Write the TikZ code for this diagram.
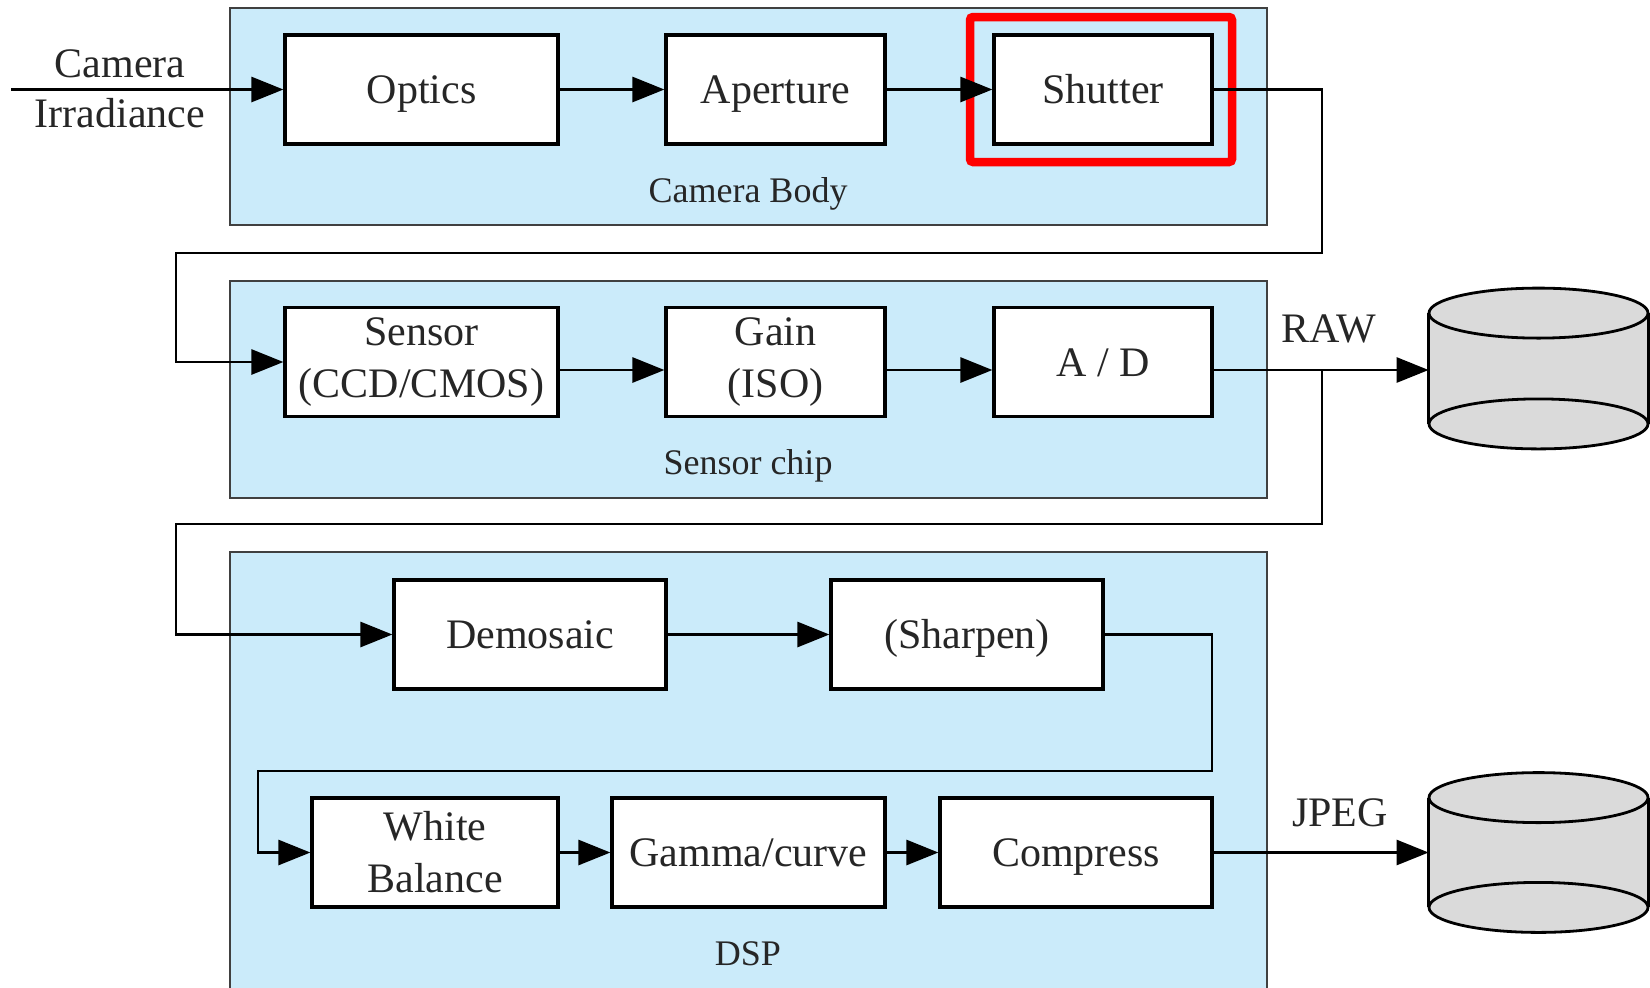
\documentclass[tikz,border=0pt]{standalone}
\usepackage{fontspec}
\setmainfont{Liberation Serif}
\usetikzlibrary{arrows.meta}
\definecolor{panelblue}{RGB}{203,235,250}
\definecolor{diskgray}{RGB}{218,218,218}

\begin{document}
\begin{tikzpicture}[x=0.5pt, y=-0.5pt,
  block/.style={draw, fill=white, line width=1.6pt, minimum height=54.5pt,
    align=center, inner sep=0pt, text=black!85, font=\fontsize{21}{26}\selectfont},
  oneline/.style={text height=16pt, text depth=2pt},
  panel/.style={draw=black!75, fill=panelblue, line width=1pt},
  wire/.style={line width=1.4pt},
  flow/.style={wire, -{Triangle[length=16pt, width=12.5pt]}},
  disk/.style={draw, fill=diskgray, line width=1.4pt},
  lbl/.style={align=center, text=black!85, font=\fontsize{21}{25}\selectfont},
  plbl/.style={text=black!85, font=\fontsize{18}{21}\selectfont}
]
  \clip (0,0) rectangle (1650,987);

  % Panels
  \draw[panel] (230,8) rectangle (1267,225);
  \draw[panel] (230,281) rectangle (1267,498);
  \draw[panel] (230,552) rectangle (1267,1000);
  \node[plbl] (bodylbl) at (748,194) {Camera Body};
  \node[plbl] (chiplbl) at (748,466) {Sensor chip};
  \node[plbl] (dsplbl) at (748,954) {DSP};

  % Blocks
  \node[block, oneline, minimum width=136.5pt] (optics) at (421.5,89.5) {Optics};
  \node[block, oneline, minimum width=109.5pt] (aperture) at (775.5,89.5) {Aperture};
  \node[block, oneline, minimum width=109pt] (shutter) at (1103,89.5) {Shutter};

  \node[block, minimum width=136.5pt] (sensor) at (421.5,362) {Sensor\\(CCD/CMOS)};
  \node[block, minimum width=109.5pt] (gain) at (775.5,362) {Gain\\(ISO)};
  \node[block, oneline, minimum width=109pt] (ad) at (1103,362) {A / D};

  \node[block, oneline, minimum width=136pt] (demosaic) at (530,634.5) {Demosaic};
  \node[block, oneline, minimum width=136pt] (sharpen) at (967,634.5) {(Sharpen)};

  \node[block, minimum width=123pt] (wb) at (435,852.5) {White\\Balance};
  \node[block, oneline, minimum width=136.5pt] (gamma) at (748.5,852.5) {Gamma/curve};
  \node[block, oneline, minimum width=136pt] (compress) at (1076,852.5) {Compress};

  % Highlight
  \draw[red, line width=4.25pt, rounded corners=1.5pt] (970,17) rectangle (1232,162);

  % Storage
  \node[minimum width=109.5pt, minimum height=55pt, inner sep=0pt] (rawdisk) at (1538.5,368.5) {};
  \node[minimum width=109.5pt, minimum height=54.5pt, inner sep=0pt] (jpegdisk) at (1538.5,852.5) {};
  \foreach \d in {rawdisk, jpegdisk} {
    \fill[diskgray] (\d.north west) rectangle (\d.south east);
    \filldraw[disk] (\d.south) ellipse [x radius=54.75pt, y radius=12.5pt];
    \filldraw[disk] (\d.north) ellipse [x radius=54.75pt, y radius=12.5pt];
    \draw[wire] (\d.north west) -- (\d.south west);
    \draw[wire] (\d.north east) -- (\d.south east);
  }
  \node[lbl] (rawlbl) at (1329,329) {RAW};
  \node[lbl] (jpeglbl) at (1340,813) {JPEG};

  % Input
  \coordinate (in) at (11,89.5);
  \node[lbl] (irr) at (120,89) {Camera\\Irradiance};

  % Bends
  \coordinate (busR1) at (1322,253);
  \coordinate (busL1) at (176,253);
  \coordinate (busR2) at (1322,524);
  \coordinate (busL2) at (176,524);
  \coordinate (busR3) at (1212,771);
  \coordinate (busL3) at (258,771);

  % Connectors
  \draw[flow] (in) -- (optics);
  \draw[flow] (optics) -- (aperture);
  \draw[flow] (aperture) -- (shutter);
  \draw[flow] (shutter) -| (busR1) -- (busL1) |- (sensor);

  \draw[flow] ([yshift=-4pt]sensor.east) -- ([yshift=-4pt]gain.west);
  \draw[flow] ([yshift=-4pt]gain.east) -- ([yshift=-4pt]ad.west);
  \draw[flow] ([yshift=-4pt]ad.east) -- ([yshift=-4pt]ad.east -| rawdisk.west);
  \draw[flow] ([yshift=-4pt]ad.east -| busR1) -- (busR2) -- (busL2) |- (demosaic);

  \draw[flow] (demosaic) -- (sharpen);
  \draw[flow] (sharpen) -| (busR3) -- (busL3) |- (wb);
  \draw[flow] (wb) -- (gamma);
  \draw[flow] (gamma) -- (compress);
  \draw[flow] (compress.east) -- (compress.east -| jpegdisk.west);
\end{tikzpicture}
\end{document}
